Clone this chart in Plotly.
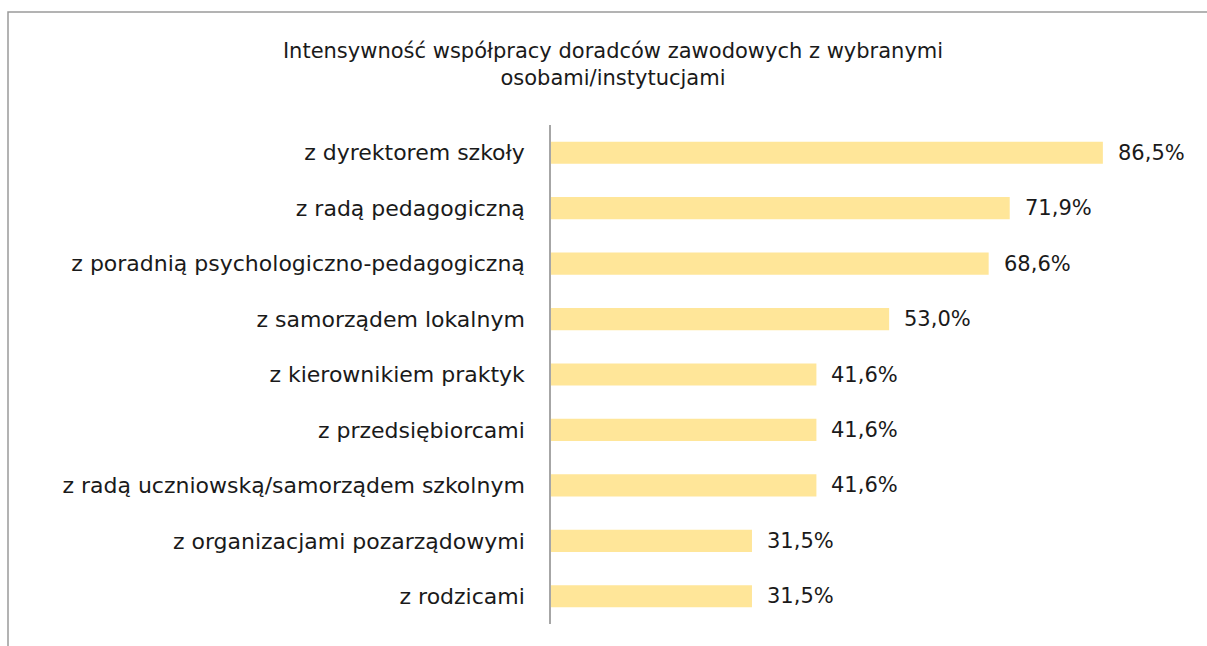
import plotly.graph_objects as go

categories = [
    "z dyrektorem szkoły",
    "z radą pedagogiczną",
    "z poradnią psychologiczno-pedagogiczną",
    "z samorządem lokalnym",
    "z kierownikiem praktyk",
    "z przedsiębiorcami",
    "z radą uczniowską/samorządem szkolnym",
    "z organizacjami pozarządowymi",
    "z rodzicami",
]
values = [86.5, 71.9, 68.6, 53.0, 41.6, 41.6, 41.6, 31.5, 31.5]
title_text = "Intensywność współpracy doradców zawodowych z wybranymi<br>osobami/instytucjami"

FONT = "DejaVu Sans"
FS = 22
W, H = 1207, 646
L, R, T, B = 551, 18, 125, 22
pw, ph = W - L - R, H - T - B

fig = go.Figure()
fig.add_trace(go.Bar(
    x=values, y=categories, orientation="h",
    marker=dict(color="#FFE699", line=dict(width=0)),
    width=0.4, hoverinfo="skip",
))

for c, v in zip(categories, values):
    fig.add_annotation(
        x=v, y=c, xref="x", yref="y", text=f"{v:.1f}%".replace(".", ","),
        showarrow=False, xanchor="left", xshift=13,
        font=dict(family=FONT, size=FS - 1, color="#1a1a1a"),
    )

def px_x(p):
    return (p - L) / pw

def px_y(p):
    return (H - B - p) / ph

fig.add_shape(type="rect", xref="paper", yref="paper",
              x0=px_x(8), x1=px_x(W + 10), y0=px_y(H + 10), y1=px_y(12),
              line=dict(color="#9a9a9a", width=1.5), fillcolor="rgba(0,0,0,0)",
              layer="below")

fig.update_layout(
    width=W, height=H,
    margin=dict(l=L, r=R, t=T, b=B),
    paper_bgcolor="white", plot_bgcolor="white",
    showlegend=False,
    title=dict(text=title_text, x=613 / W, xanchor="center", xref="container",
               y=1 - 58 / H, yanchor="top", yref="container",
               font=dict(family=FONT, size=FS - 1, color="#1a1a1a")),
    xaxis=dict(range=[0, 100], visible=False, fixedrange=True),
    yaxis=dict(autorange="reversed", showline=True, linecolor="#a6a6a6", linewidth=1.5,
               showgrid=False, zeroline=False, ticks="outside", ticklen=20,
               tickcolor="rgba(0,0,0,0)", fixedrange=True,
               tickfont=dict(family=FONT, size=FS, color="#1a1a1a")),
    bargap=0.6,
)

fig.write_html("out.html", config={"displayModeBar": False},
               post_script="document.body.style.margin='0';document.body.style.overflow='hidden';")
